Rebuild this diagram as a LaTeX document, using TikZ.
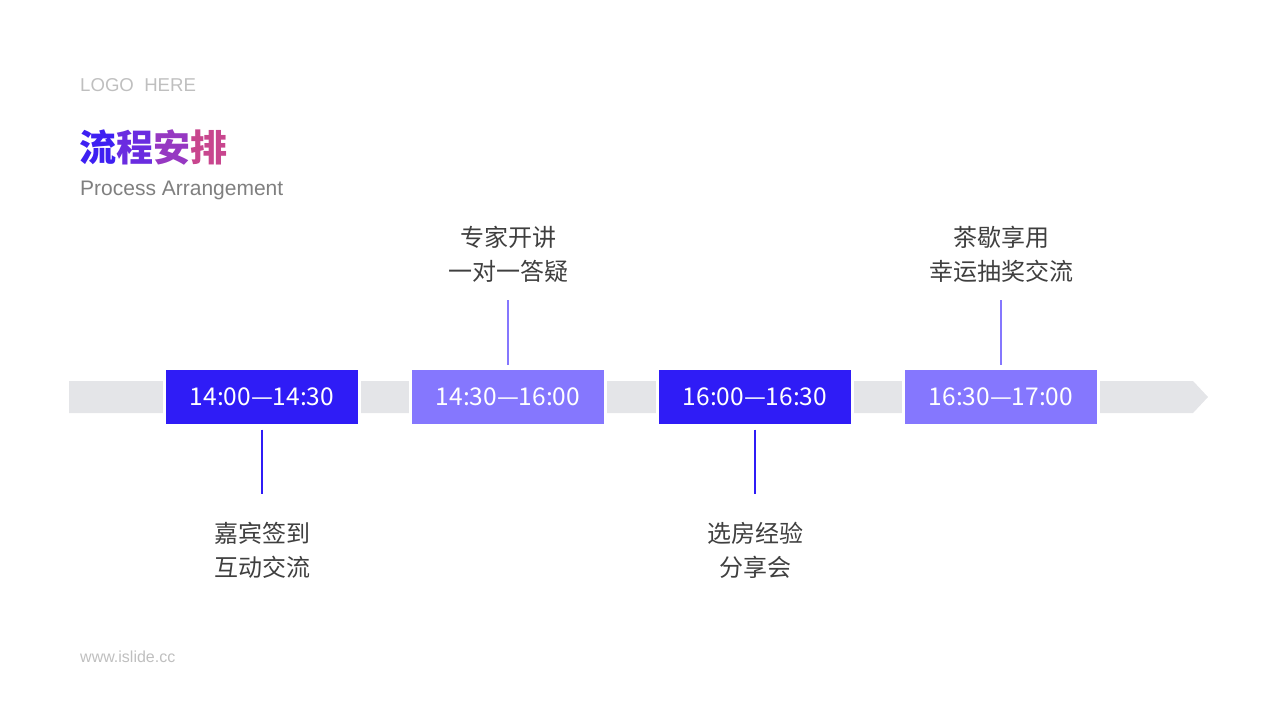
\documentclass[tikz,border=0pt]{standalone}
\usepackage{fontspec}
\setmainfont{Liberation Sans}
\newfontfamily\cjk{Noto Sans CJK SC}
\usetikzlibrary{positioning}
\definecolor{deepblue}{HTML}{2F1CF6}
\definecolor{softblue}{HTML}{8577FE}
\definecolor{bargray}{HTML}{E4E5E8}
\definecolor{labelgray}{HTML}{3F3F3F}
\definecolor{hintgray}{HTML}{BFBFBF}
\definecolor{subgray}{HTML}{7F7F7F}

\begin{document}
\begin{tikzpicture}[x=1pt, y=-1pt,
  timebox/.style={draw=white, line width=3pt, minimum width=195pt, minimum height=57pt,
    inner sep=0pt, text=white, font=\cjk\fontsize{24.5}{28}\selectfont},
  tasklabel/.style={align=center, text=labelgray, font=\cjk\fontsize{24}{34}\selectfont}]
\useasboundingbox (0,0) rectangle (1280,720);
% header
\node[anchor=west, text=hintgray, font=\fontsize{18.6}{22}\selectfont, inner sep=0pt] (logo) at (80,85) {LOGO\ \ HERE};
\node[anchor=west, inner sep=0pt, font=\cjk\bfseries\fontsize{37}{40}\selectfont] (title) at (79,147)
  {\textcolor[HTML]{3E20F2}{流}\textcolor[HTML]{6A2CE0}{程}\textcolor[HTML]{9638C2}{安}\textcolor[HTML]{C8468E}{排}};
\node[anchor=west, text=subgray, font=\fontsize{21}{24}\selectfont, inner sep=0pt] (subtitle) at (80,190) {Process Arrangement};
\node[anchor=west, text=hintgray, font=\fontsize{16}{19}\selectfont, inner sep=0pt] (site) at (80,657) {www.islide.cc};
% timeline bar
\fill[bargray] (69,381) -- (1193,381) -- (1208,397) -- (1193,413) -- (69,413) -- cycle;
\foreach \i/\x/\col/\t in {1/262/deepblue/14:00—14:30, 2/508/softblue/14:30—16:00,
                           3/755/deepblue/16:00—16:30, 4/1001/softblue/16:30—17:00}
  \node[timebox, fill=\col] (t\i) at (\x,397) {\t};
% activities
\foreach \i/\x/\y/\ey/\col/\txt in {1/262/550/494/deepblue/{嘉宾签到\\互动交流}, 2/508/254/300/softblue/{专家开讲\\一对一答疑},
                                  3/755/550/494/deepblue/{选房经验\\分享会}, 4/1001/254/300/softblue/{茶歇享用\\幸运抽奖交流}} {
  \node[tasklabel] (l\i) at (\x,\y) {\txt};
  \coordinate (e\i) at (\x,\ey);
  \draw[\col, line width=1.3pt, shorten <=2.5pt] (t\i) -- (e\i);
}
\end{tikzpicture}
\end{document}
